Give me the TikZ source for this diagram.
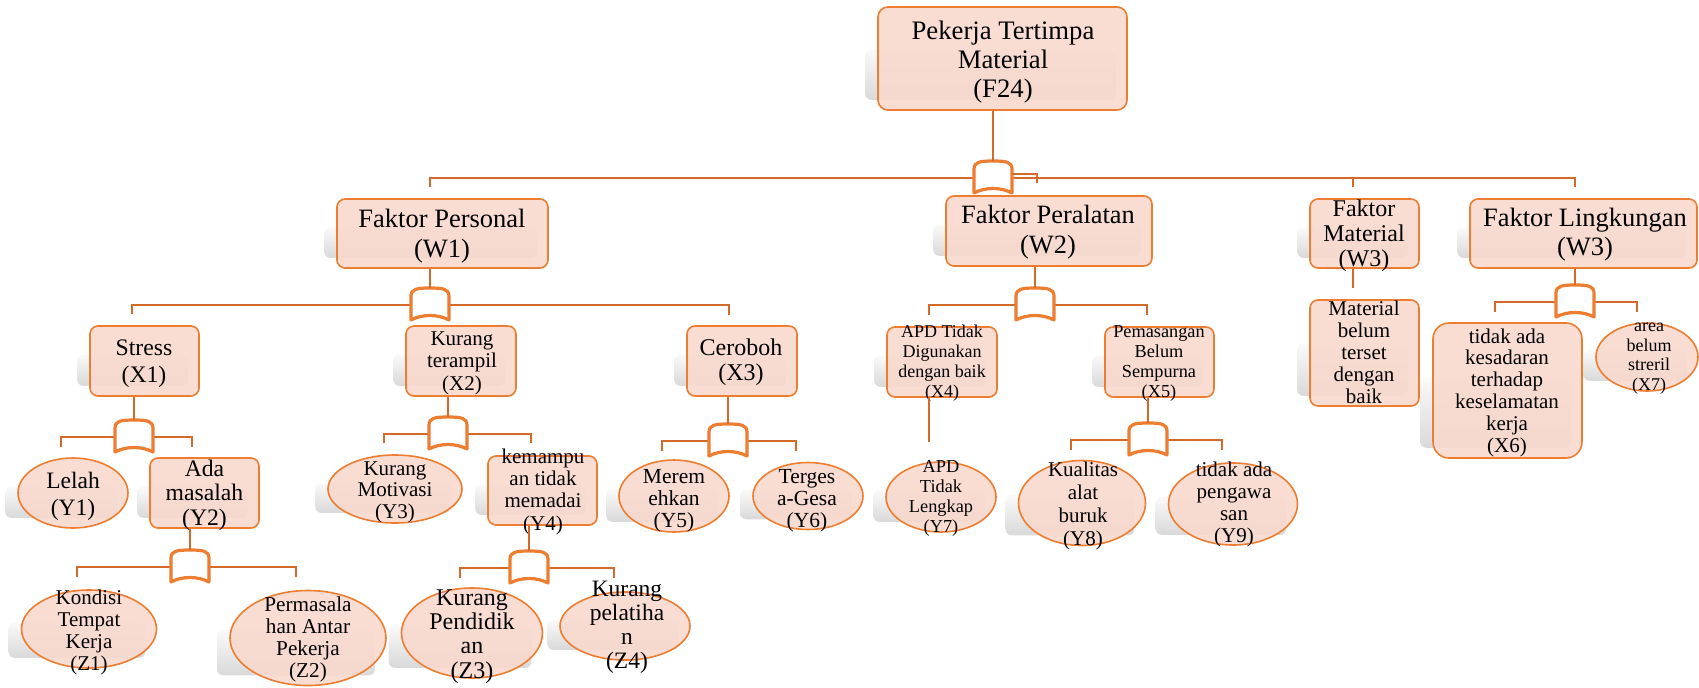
\documentclass[tikz,border=0pt]{standalone}
\usepackage{fontspec}
\setmainfont{Liberation Serif}
\usetikzlibrary{shapes.geometric,calc,backgrounds}

\definecolor{boxline}{RGB}{237,125,49}
\definecolor{boxfill}{RGB}{248,217,206}
\definecolor{linkcol}{RGB}{212,106,42}

\newcommand\fsz[2]{\fontsize{#1}{#2}\selectfont}

\tikzset{
  cell/.style={draw=boxline, fill=boxfill, fill opacity=.9, line width=.8pt, inner sep=0pt},
  box/.style={cell, rectangle, rounded corners=4pt},
  oval/.style={cell, ellipse},
  txt/.style={anchor=base, align=center, inner sep=0pt},
  link/.style={draw=linkcol, line width=.65pt},
  lift/.style={rounded corners=3pt, top color=black!2, bottom color=black!15, draw=none},
  gate/.pic={
    \filldraw[draw=boxline, fill=white, line width=1.6pt, line join=round]
      (-19,-9) .. controls (-19,-16) and (-13,-17) .. (0,-17)
      .. controls (13,-17) and (19,-16) .. (19,-9) -- (19,15)
      .. controls (8,9) and (-8,9) .. (-19,15) -- cycle;
    \coordinate (-top) at (0,-17);
  }
}

\begin{document}
\begin{tikzpicture}[x=0.5pt, y=-0.5pt]
  \useasboundingbox (0,0) rectangle (1699,687);

  % puncak (teks diletakkan pada garis dasar baris terakhir)
  \node[box, rounded corners=5pt, minimum width=124.5pt, minimum height=51.5pt] (f24) at (1002.5,58.5) {};
  \node[txt, font=\fsz{13.35pt}{14.5pt}] (f24-t) at (1003,97) {Pekerja Tertimpa\\Material\\(F24)};

  % faktor
  \node[box, minimum width=105.5pt, minimum height=34.5pt] (w1) at (442.5,233.5) {};
  \node[txt, font=\fsz{13.25pt}{15pt}] (w1-t) at (442,257) {Faktor Personal\\(W1)};
  \node[box, minimum width=103pt, minimum height=35pt] (w2) at (1049,231) {};
  \node[txt, font=\fsz{13.2pt}{15pt}] (w2-t) at (1048,253) {Faktor Peralatan\\(W2)};
  \node[box, minimum width=54.5pt, minimum height=34.5pt] (w3) at (1364.5,233.5) {};
  \node[txt, font=\fsz{12pt}{12.5pt}] (w3-t) at (1364,266) {Faktor\\Material\\(W3)};
  \node[box, minimum width=113.5pt, minimum height=34.5pt] (w4) at (1583.5,233.5) {};
  \node[txt, font=\fsz{13.25pt}{14.25pt}] (w4-t) at (1585,255) {Faktor Lingkungan\\(W3)};

  % sebab X
  \node[box, minimum width=54.5pt, minimum height=35pt] (x1) at (144.5,361) {};
  \node[txt, font=\fsz{11.85pt}{13.5pt}] (x1-t) at (144,382) {Stress\\(X1)};
  \node[box, minimum width=55pt, minimum height=35pt] (x2) at (461,361) {};
  \node[txt, font=\fsz{10.5pt}{11.25pt}] (x2-t) at (462,390) {Kurang\\terampil\\(X2)};
  \node[box, minimum width=55pt, minimum height=35pt] (x3) at (742,361) {};
  \node[txt, font=\fsz{12pt}{12.5pt}] (x3-t) at (741,380) {Ceroboh\\(X3)};
  \node[box, minimum width=55pt, minimum height=35pt] (x4) at (942,362) {};
  \node[txt, font=\fsz{9pt}{9.85pt}] (x4-t) at (942,397) {APD Tidak\\Digunakan\\dengan baik\\(X4)};
  \node[box, minimum width=54.5pt, minimum height=35pt] (x5) at (1159.5,362) {};
  \node[txt, font=\fsz{9.15pt}{9.85pt}] (x5-t) at (1159,397) {Pemasangan\\Belum\\Sempurna\\(X5)};
  \node[box, minimum width=54.5pt, minimum height=53pt] (m1) at (1364.5,353) {};
  \node[txt, font=\fsz{10.5pt}{11pt}] (m1-t) at (1364,403) {Material\\belum\\terset\\dengan\\baik};
  \node[box, rounded corners=8pt, minimum width=74.5pt, minimum height=67.5pt] (x6) at (1507.5,390.5) {};
  \node[txt, font=\fsz{10.5pt}{10.9pt}] (x6-t) at (1507,452) {tidak ada\\kesadaran\\terhadap\\keselamatan\\kerja\\(X6)};
  \node[oval, minimum width=51pt, minimum height=34pt] (x7) at (1647,357) {};
  \node[txt, font=\fsz{9pt}{9.75pt}] (x7-t) at (1649,390) {area\\belum\\streril\\(X7)};

  % sebab Y
  \node[oval, minimum width=55pt, minimum height=35pt] (y1) at (73,493) {};
  \node[txt, font=\fsz{11.75pt}{13.5pt}] (y1-t) at (73,515) {Lelah\\(Y1)};
  \node[box, minimum width=54.5pt, minimum height=35pt] (y2) at (204.5,493) {};
  \node[txt, font=\fsz{11.85pt}{12.25pt}] (y2-t) at (204.5,525) {Ada\\masalah\\(Y2)};
  \node[oval, minimum width=67pt, minimum height=34pt] (y3) at (395,489) {};
  \node[txt, font=\fsz{10.5pt}{10.75pt}] (y3-t) at (395,518) {Kurang\\Motivasi\\(Y3)};
  \node[box, minimum width=54.5pt, minimum height=34.5pt] (y4) at (542.5,490.5) {};
  \node[txt, font=\fsz{10.5pt}{11.15pt}] (y4-t) at (543,530) {kemampu\\an tidak\\memadai\\(Y4)};
  \node[oval, minimum width=55pt, minimum height=36pt] (y5) at (674,496) {};
  \node[txt, font=\fsz{10.75pt}{11pt}] (y5-t) at (674,527) {Merem\\ehkan\\(Y5)};
  \node[oval, minimum width=55pt, minimum height=33.5pt] (y6) at (808,496) {};
  \node[txt, font=\fsz{10.75pt}{11pt}] (y6-t) at (807,527) {Terges\\a-Gesa\\(Y6)};
  \node[oval, minimum width=55pt, minimum height=35pt] (y7) at (941,497) {};
  \node[txt, font=\fsz{9.15pt}{9.85pt}] (y7-t) at (941,532) {APD\\Tidak\\Lengkap\\(Y7)};
  \node[oval, minimum width=63.5pt, minimum height=42.5pt] (y8) at (1082,503) {};
  \node[txt, font=\fsz{10.5pt}{11.35pt}] (y8-t) at (1083,545) {Kualitas\\alat\\buruk\\(Y8)};
  \node[oval, minimum width=64.5pt, minimum height=41pt] (y9) at (1233,504) {};
  \node[txt, font=\fsz{10.5pt}{10.85pt}] (y9-t) at (1234,542) {tidak ada\\pengawa\\san\\(Y9)};

  % sebab Z
  \node[oval, minimum width=67.5pt, minimum height=39pt] (z1) at (89,629) {};
  \node[txt, font=\fsz{10.5pt}{10.85pt}] (z1-t) at (89,670) {Kondisi\\Tempat\\Kerja\\(Z1)};
  \node[oval, minimum width=78pt, minimum height=47.5pt] (z2) at (308,638) {};
  \node[txt, font=\fsz{10.6pt}{10.85pt}] (z2-t) at (308,677) {Permasala\\han Antar\\Pekerja\\(Z2)};
  \node[oval, minimum width=70.5pt, minimum height=45pt] (z3) at (472,633) {};
  \node[txt, font=\fsz{12pt}{12.15pt}] (z3-t) at (472,678) {Kurang\\Pendidik\\an\\(Z3)};
  \node[oval, minimum width=65pt, minimum height=34pt] (z4) at (625,626) {};
  \node[txt, font=\fsz{11.75pt}{11.85pt}] (z4-t) at (627,668) {Kurang\\pelatiha\\n\\(Z4)};

  % bayangan
  \begin{scope}[on background layer]
    \foreach \n in {f24,w1,w2,w3,w4,x1,x2,x3,x4,x5,m1,x6,x7,y1,y2,y3,y4,y5,y6,y7,y8,y9,z1,z2,z3,z4}
      \shade[lift] ($(\n.west |- \n.south)+(-12,-11)$) rectangle ($(\n.east |- \n.north)!.41!(\n.east |- \n.south)+(-12,0)$);
  \end{scope}

  % titik gerbang dan ujung cabang
  \coordinate (g0) at (993,178);
  \coordinate (g1) at (430,305);
  \coordinate (g2) at (134,437);
  \coordinate (g3) at (190,567);
  \coordinate (g4) at (448,434);
  \coordinate (g5) at (529,568);
  \coordinate (g6) at (728,441);
  \coordinate (g7) at (1035,305);
  \coordinate (g8) at (1148,440);
  \coordinate (g9) at (1575,302);
  \coordinate (t0a) at (430,187);  \coordinate (t0b) at (1353,187);  \coordinate (t0c) at (1575,187);
  \coordinate (t1a) at (132,314);  \coordinate (t1b) at (729,315);
  \coordinate (t2a) at (61,447);   \coordinate (t2b) at (192,447);
  \coordinate (t3a) at (77,577);   \coordinate (t3b) at (296,577);
  \coordinate (t4a) at (384,443);  \coordinate (t4b) at (531,443);
  \coordinate (t5a) at (460,578);  \coordinate (t5b) at (614,578);
  \coordinate (t6a) at (662,451);  \coordinate (t6b) at (796,451);
  \coordinate (t7a) at (929,315);  \coordinate (t7b) at (1147,315);
  \coordinate (t8a) at (1071,450); \coordinate (t8b) at (1222,450);
  \coordinate (t9a) at (1495,312); \coordinate (t9b) at (1637,312);
  \coordinate (u1) at (929,442);
  \coordinate (u2) at (1353,288);
  \coordinate (s0) at (1012,174);
  \coordinate (s1) at (1037,183);

  % cabang
  \foreach \g in {0,...,9}
    \draw[link] (t\g a) |- (g\g) -| (t\g b);
  \draw[link] (g0) -| (t0c);
  \foreach \g in {0,...,9}
    \pic (g\g) at (g\g) {gate};
  \draw[link] (s0) -| (s1);

  % penghubung induk ke gerbang
  \foreach \p/\g in {f24/g0, w1/g1, x1/g2, y2/g3, x2/g4, y4/g5, x3/g6, w2/g7, x5/g8, w4/g9}
    \draw[link] (\p.south -| \g-top) -- (\g-top);
  \draw[link] (x4.south -| u1) -- (u1);
  \draw[link] (w3.south -| u2) -- (u2);
\end{tikzpicture}
\end{document}
